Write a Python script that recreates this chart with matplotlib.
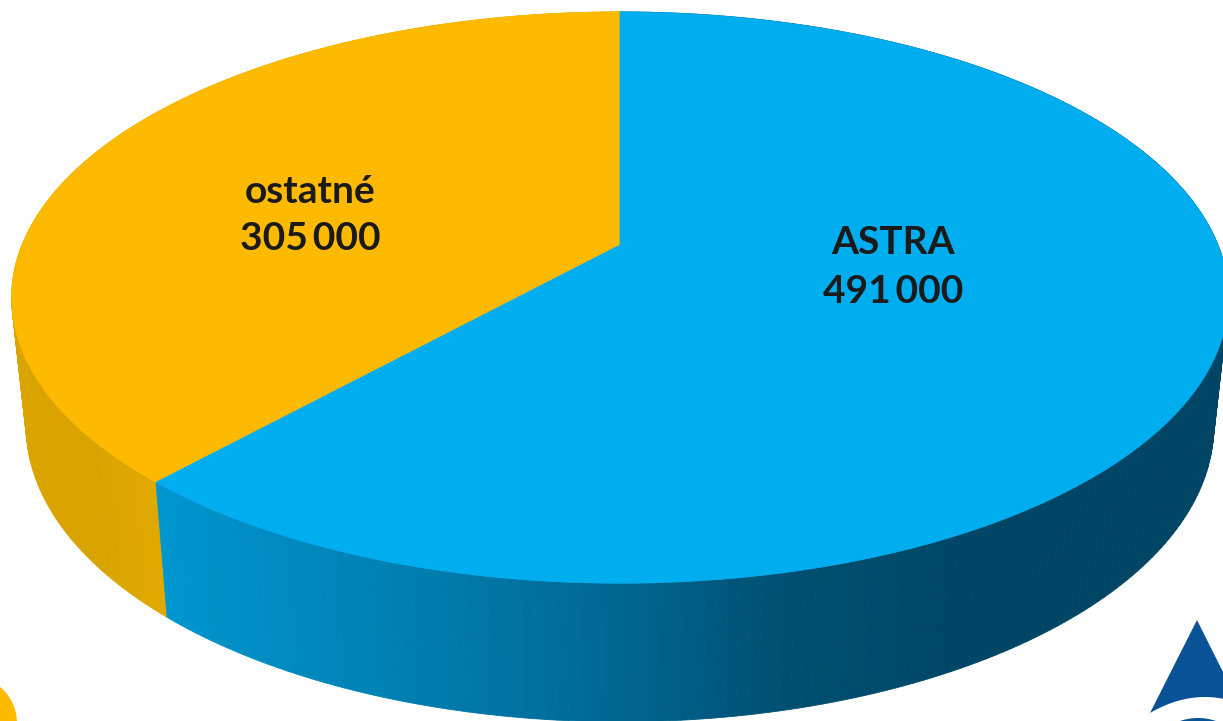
import numpy as np
import matplotlib
matplotlib.use("Agg")
import matplotlib.pyplot as plt
from matplotlib.patches import Polygon, Circle
from matplotlib.colors import LinearSegmentedColormap

# data
labels = ["ostatné", "ASTRA"]
values = [305000, 491000]
value_texts = ["305\u2009000", "491\u2009000"]
top_colors = ["#FDBA00", "#00ADEF"]

W, H = 1223, 721

# 3D look of the pie: perspective of a unit circle
CX, CY = 620, 245
K = 0.184
A = 276
C = 598
SIDE_SCALE = 0.976

side_blue = LinearSegmentedColormap.from_list("b", [(0, "#0096D0"), (0.25, "#0082B5"), (0.5, "#006C98"),
                                                    (0.75, "#004F70"), (1, "#004564")])
side_orange = LinearSegmentedColormap.from_list("o", ["#DBA400", "#D9A300", "#E0A900"])


def project(theta):
    # theta counted counter-clockwise from 12 o'clock
    u = -np.sin(theta)
    v = np.cos(theta)
    d = 1 + K * v
    return CX + C * u / d, CY - A * v / d


def project_bottom(theta):
    x, y = project(theta)
    return CX + (x - CX) * SIDE_SCALE, 617 + (y - 482) * 1.035


fig = plt.figure(figsize=(W / 100, H / 100), dpi=100)
ax = fig.add_axes([0, 0, 1, 1])
ax.set_xlim(0, W)
ax.set_ylim(H, 0)
ax.axis("off")

fractions = np.array(values) / sum(values)
edges = np.concatenate([[0], np.cumsum(fractions)]) * 2 * np.pi

# side wall, small strips so the shading runs left to right
for i in range(len(values)):
    n = int(400 * fractions[i])
    t = np.linspace(edges[i], edges[i + 1], n + 1)
    for j in range(n):
        tt = t[j:j + 2]
        x1, y1 = project(tt)
        x2, y2 = project_bottom(tt)
        if i == 0:
            col = side_orange(np.clip((x1.mean() - 12) / 145, 0, 1))
        else:
            col = side_blue(np.clip((x1.mean() - 155) / 850, 0, 1))
        pts = [(x1[0], y1[0]), (x1[1], y1[1]), (x2[1], y2[1]), (x2[0], y2[0])]
        ax.add_patch(Polygon(pts, closed=True, fc=col, ec=col, lw=0.6, zorder=2))

# top face
for i in range(len(values)):
    t = np.linspace(edges[i], edges[i + 1], 300)
    x, y = project(t)
    pts = [(CX, CY)] + list(zip(x, y))
    ax.add_patch(Polygon(pts, closed=True, fc=top_colors[i], ec=top_colors[i], lw=0.5, zorder=3))

# labels
fonts = ["Lato", "DejaVu Sans"]
ax.text(310, 215, labels[0] + "\n" + value_texts[0], ha="center", va="center", family=fonts,
        fontweight="bold", fontsize=28, color="#1a1a1a", linespacing=1.41, zorder=5)
ax.text(893, 267, labels[1] + "\n" + value_texts[1], ha="center", va="center", family=fonts,
        fontweight="bold", fontsize=28, color="#1a1a1a", linespacing=1.45, zorder=5)

# logo pieces in the corners of the slide
ax.add_patch(Circle((-30, 723), 47, fc="#FDBA00", ec="none", zorder=4))
xs = np.linspace(1150, W, 40)
arc = 697 + 16 * ((xs - 1205) / 55) ** 2
ax.add_patch(Polygon([(1197, 620), (W, 672)] + list(zip(xs[::-1], arc[::-1])), closed=True,
                     fc="#0A5296", ec="none", zorder=4))
xs2 = np.linspace(1178, 1220, 30)
ax.add_patch(Polygon(list(zip(xs2, 718 + 3 * ((xs2 - 1198) / 18) ** 2)), closed=True,
                     fc="#0A5296", ec="none", zorder=4))

fig.savefig("out.png", dpi=100, facecolor="white")
